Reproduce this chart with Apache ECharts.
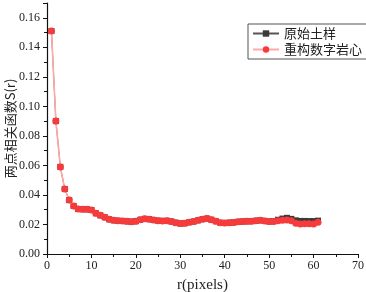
<!DOCTYPE html>
<html>
<head>
<meta charset="utf-8">
<script src="https://cdn.jsdelivr.net/npm/echarts@6/dist/echarts.min.js"></script>
<style>html,body{margin:0;padding:0;background:#fff}#c{width:366px;height:292px}</style>
</head>
<body>
<div id="c"></div>
<script>
var r = [];
for (var i = 1; i <= 61; i++) r.push(i);
var seriesNames = ['原始土样', '重构数字岩心'];
var original = [0.151,0.090,0.059,0.044,0.0365,0.0325,0.0305,0.0303,0.0303,0.0298,
0.0276,0.0262,0.0249,0.0235,0.0228,0.0225,0.0224,0.0221,0.0219,0.0222,
0.0232,0.0238,0.0236,0.0230,0.0226,0.0224,0.0225,0.0220,0.0212,0.0206,
0.0208,0.0215,0.0220,0.0228,0.0236,0.0240,0.0232,0.0222,0.0212,0.0210,
0.0212,0.0214,0.0218,0.0220,0.0221,0.0222,0.0225,0.0228,0.0224,0.0220,
0.0222,0.0232,0.0240,0.0245,0.0238,0.0228,0.0224,0.0224,0.0223,0.0223,0.0226];
var reconstructed = [0.151,0.090,0.059,0.044,0.0365,0.0325,0.0305,0.0303,0.0303,0.0298,
0.0276,0.0262,0.0249,0.0235,0.0228,0.0225,0.0224,0.0221,0.0219,0.0222,
0.0232,0.0238,0.0236,0.0230,0.0226,0.0224,0.0225,0.0220,0.0212,0.0206,
0.0208,0.0215,0.0220,0.0228,0.0236,0.0240,0.0232,0.0222,0.0212,0.0210,
0.0212,0.0214,0.0218,0.0220,0.0221,0.0222,0.0225,0.0228,0.0224,0.0220,
0.0220,0.0225,0.0228,0.0230,0.0226,0.0208,0.0204,0.0205,0.0205,0.0204,0.0215];

function pairs(ys){ return r.map(function(x,k){ return [x, ys[k]]; }); }
var serif = '"Liberation Serif", "DejaVu Serif", serif';
var chart = echarts.init(document.getElementById('c'), null, {renderer:'canvas'});
chart.setOption({
  animation:false,
  backgroundColor:'#fff',
  grid:{left:47,right:8,top:3,bottom:38,containLabel:false,outerBoundsMode:'none'},
  legend:{
    orient:'vertical', left:248, top:24,
    data:[seriesNames[0], seriesNames[1]],
    itemWidth:26, itemHeight:8, itemGap:3,
    borderColor:'#555', borderWidth:1, borderRadius:0, padding:[3,6,3,4],
    textStyle:{fontFamily:'"Noto Sans CJK SC", sans-serif', fontSize:13, color:'#222'}
  },
  xAxis:{
    type:'value', min:0, max:70, interval:10,
    name:'r(pixels)', nameLocation:'middle', nameGap:24, nameMoveOverlap:false,
    nameTextStyle:{fontFamily:serif, fontSize:15, color:'#222'},
    axisLine:{lineStyle:{color:'#111', width:1.2}},
    axisTick:{inside:false, length:4, lineStyle:{color:'#111'}},
    minorTick:{show:true, splitNumber:2, length:3, lineStyle:{color:'#111'}},
    axisLabel:{fontFamily:serif, fontSize:12, color:'#222', margin:6},
    splitLine:{show:false}
  },
  yAxis:{
    type:'value', min:0, max:0.17, interval:0.02,
    name:'两点相关函数S(r)', nameLocation:'middle', nameGap:30, nameRotate:90, nameMoveOverlap:false,
    nameTextStyle:{fontFamily:'"Noto Sans CJK SC", sans-serif', fontSize:13, color:'#222'},
    axisLine:{show:true, lineStyle:{color:'#111', width:1.2}},
    axisTick:{show:true, inside:false, length:4, lineStyle:{color:'#111'}},
    minorTick:{show:true, splitNumber:2, length:3, lineStyle:{color:'#111'}},
    axisLabel:{fontFamily:serif, fontSize:12, color:'#222', margin:7, showMaxLabel:false,
      formatter:function(v){ return v.toFixed(2); }},
    splitLine:{show:false}
  },
  series:[
    {name:seriesNames[0], type:'line', data:pairs(original), symbol:'rect', symbolSize:6,
     itemStyle:{color:'#3a3a3a'}, lineStyle:{color:'#555', width:1}, z:2},
    {name:seriesNames[1], type:'line', data:pairs(reconstructed), symbol:'circle', symbolSize:7,
     itemStyle:{color:'#f53b3b'}, lineStyle:{color:'#ffa8a8', width:1.6}, z:3}
  ]
});
</script>
</body>
</html>
